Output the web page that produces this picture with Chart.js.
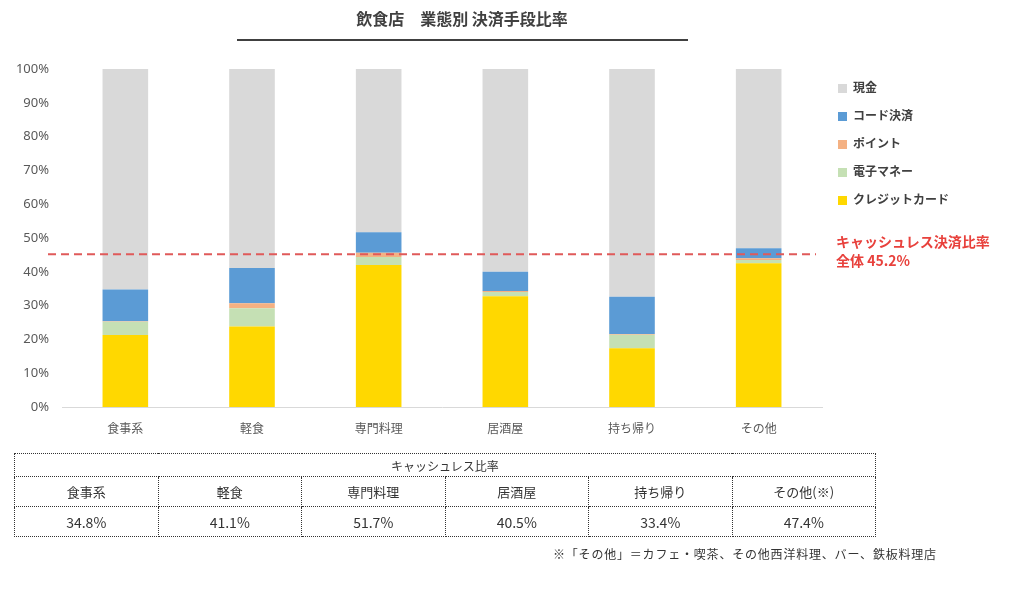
<!DOCTYPE html>
<html>
<head>
<meta charset="utf-8">
<script src="https://cdn.jsdelivr.net/npm/chart.js@4/dist/chart.umd.min.js"></script>
<style>
body { margin:0; background:#fff; font-family:"Noto Sans CJK JP","Noto Sans",sans-serif; }
#wrap { position:relative; width:1023px; height:589px; overflow:hidden; }
#chart { position:absolute; left:0; top:0; }
#title { position:absolute; left:237px; width:450px; top:6px; text-align:center; font-size:16px; font-weight:bold; color:#404040; }
#rule { position:absolute; left:237px; width:451px; top:39px; border-top:2px solid #404040; }
#legend { position:absolute; left:838px; top:78px; font-size:12px; font-weight:bold; color:#404040; }
#legend div { height:28px; line-height:18px; }
#legend span.sw { display:inline-block; width:9px; height:9px; margin-right:6px; vertical-align:-1px; }
#note { position:absolute; left:836px; top:232px; color:#e8413c; font-weight:bold; font-size:14px; line-height:19px; }
#tbl { position:absolute; left:14px; top:453px; width:862px; border-collapse:collapse; table-layout:fixed; font-size:14px; color:#333; }
#tbl td { border:1px dotted #333; text-align:center; padding:0; }
#tbl tr.h td { height:22px; font-size:12px; }
#tbl tr.c td { height:29px; font-size:13px; }
#tbl tr.v td { height:29px; }
#foot { position:absolute; left:553px; top:545px; font-size:12px; letter-spacing:0.8px; color:#333; }
</style>
</head>
<body>
<div id="wrap">
  <canvas id="chart" width="1023" height="589"></canvas>
  <div id="title">飲食店　業態別 決済手段比率</div>
  <div id="rule"></div>
  <div id="legend"></div>
  <div id="note">キャッシュレス決済比率<br>全体 45.2%</div>
  <table id="tbl"></table>
  <div id="foot">※「その他」＝カフェ・喫茶、その他西洋料理、バー、鉄板料理店</div>
</div>
<script>
var categories = ["食事系", "軽食", "専門料理", "居酒屋", "持ち帰り", "その他"];
var tableHeads = ["食事系", "軽食", "専門料理", "居酒屋", "持ち帰り", "その他(※)"];
var cashlessRates = ["34.8%", "41.1%", "51.7%", "40.5%", "33.4%", "47.4%"];
var overallRate = 45.2;

var credit = [21.3, 23.8, 42.0, 32.8, 17.4, 42.5];
var emoney = [3.9, 5.4, 2.4, 1.2, 4.0, 1.0];
var point  = [0.2, 1.5, 1.2, 0.3, 0.2, 0.5];
var code   = [9.4, 10.4, 6.1, 5.7, 11.0, 3.0];
var cash   = [65.2, 58.9, 48.3, 60.0, 67.4, 53.0];

var yTicks = [0, 10, 20, 30, 40, 50, 60, 70, 80, 90, 100];

var datasets = [
    { label: "クレジットカード", data: credit, backgroundColor: "#ffd800" },
    { label: "電子マネー", data: emoney, backgroundColor: "#c5e0b4" },
    { label: "ポイント", data: point, backgroundColor: "#f4b183" },
    { label: "コード決済", data: code, backgroundColor: "#5b9bd5" },
    { label: "現金", data: cash, backgroundColor: "#d9d9d9" }
];
datasets.forEach(function(d) {
    d.barPercentage = 0.36;
    d.categoryPercentage = 1.0;
    d.borderWidth = 0;
});

// legend (top = 現金)
var lg = document.getElementById("legend");
datasets.slice().reverse().forEach(function(d) {
    var row = document.createElement("div");
    row.innerHTML = '<span class="sw" style="background:' + d.backgroundColor + '"></span>' + d.label;
    lg.appendChild(row);
});

// table
var tbl = document.getElementById("tbl");
var h = '<tr class="h"><td colspan="6">キャッシュレス比率</td></tr><tr class="c">';
tableHeads.forEach(function(t) { h += '<td>' + t + '</td>'; });
h += '</tr><tr class="v">';
cashlessRates.forEach(function(t) { h += '<td>' + t + '</td>'; });
h += '</tr>';
tbl.innerHTML = h;

var dashLine = {
    id: "dashLine",
    afterDatasetsDraw: function(chart) {
        var c = chart.ctx, a = chart.chartArea;
        var y = chart.scales.y.getPixelForValue(overallRate);
        c.save();
        c.strokeStyle = "#e05a5a";
        c.lineWidth = 2;
        c.setLineDash([8, 5]);
        c.beginPath();
        c.moveTo(a.left - 14, y);
        c.lineTo(a.right - 6, y);
        c.stroke();
        c.restore();
    }
};

var ctx = document.getElementById("chart");
new Chart(ctx, {
    type: "bar",
    data: { labels: categories, datasets: datasets },
    plugins: [dashLine],
    options: {
        responsive: false,
        animation: false,
        layout: { padding: { left: 0, top: 69, right: 201, bottom: 152 } },
        plugins: { legend: { display: false }, tooltip: { enabled: false } },
        scales: {
            x: {
                stacked: true,
                grid: { display: false, drawTicks: false },
                border: { color: "#d9d9d9", width: 1 },
                ticks: { color: "#595959", font: { size: 12, family: "Noto Sans CJK JP" }, padding: 14 },
                afterFit: function(s) { s.height = 30; }
            },
            y: {
                stacked: true,
                min: 0,
                max: 100,
                afterBuildTicks: function(s) { s.ticks = yTicks.map(function(v) { return { value: v }; }); },
                grid: { display: false, drawTicks: false },
                border: { display: false },
                ticks: {
                    color: "#595959",
                    font: { size: 13, family: "Noto Sans" },
                    padding: 13,
                    callback: function(v) { return v + "%"; }
                },
                afterFit: function(s) { s.width = 62; }
            }
        }
    }
});
</script>
</body>
</html>
